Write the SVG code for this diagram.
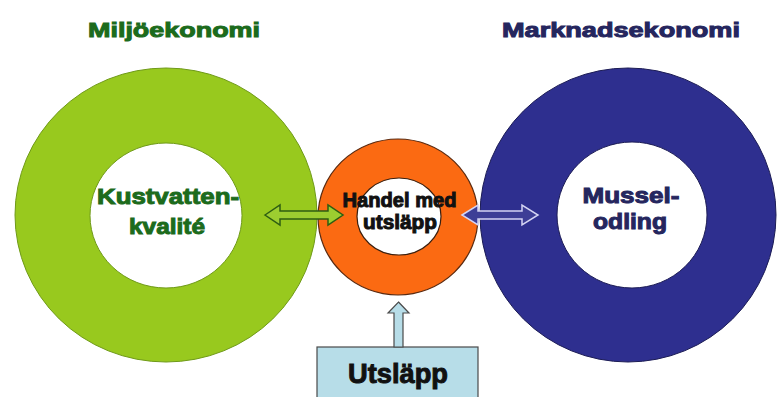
<svg xmlns="http://www.w3.org/2000/svg" width="777" height="397" viewBox="0 0 777 397">
<style>
.t{font-family:"Liberation Sans",Arial,sans-serif;font-weight:bold;text-anchor:middle}
.g{fill:#1c6b1c;stroke:#1c6b1c;stroke-width:1}
.b{fill:#25265e;stroke:#25265e;stroke-width:1}
.k{fill:#111;stroke:#111;stroke-width:1}
.inner{fill:#ffffff}
</style>
<rect width="777" height="397" fill="#ffffff"/>
<g id="title-miljo"><text class="t g" x="174" y="37" font-size="21" textLength="172" lengthAdjust="spacingAndGlyphs">Miljöekonomi</text></g>
<g id="title-marknad"><text class="t b" x="621" y="37" font-size="21" textLength="238" lengthAdjust="spacingAndGlyphs">Marknadsekonomi</text></g>
<g id="ring-green">
<ellipse cx="166" cy="215" rx="151" ry="147" fill="#98c91e" stroke="#6f9a18" stroke-width="1"/>
<ellipse class="inner" cx="166" cy="215.5" rx="76" ry="72.5" stroke="#6f9a18" stroke-width="1"/>
<text class="t g" x="168" y="204" font-size="22" textLength="142" lengthAdjust="spacingAndGlyphs">Kustvatten-</text>
<text class="t g" x="167" y="234" font-size="22" textLength="76" lengthAdjust="spacingAndGlyphs">kvalité</text>
</g>
<g id="ring-blue">
<ellipse cx="628" cy="215" rx="148" ry="147" fill="#2e2f8f" stroke="#1c1c55" stroke-width="1"/>
<ellipse class="inner" cx="632" cy="215" rx="75" ry="73" stroke="#1c1c55" stroke-width="1"/>
<text class="t b" x="631" y="203" font-size="22" textLength="97" lengthAdjust="spacingAndGlyphs">Mussel-</text>
<text class="t b" x="630" y="229" font-size="22" textLength="74" lengthAdjust="spacingAndGlyphs">odling</text>
</g>
<g id="ring-orange">
<ellipse cx="398" cy="217" rx="80" ry="78" fill="#fb6a12" stroke="#5a2a10" stroke-width="1.2"/>
<ellipse class="inner" cx="399" cy="216.5" rx="42" ry="38.5" stroke="#3a2010" stroke-width="1.2"/>
<text class="t k" x="399.5" y="207" font-size="20" textLength="114" lengthAdjust="spacingAndGlyphs">Handel med</text>
<text class="t k" x="400" y="229" font-size="20" textLength="74" lengthAdjust="spacingAndGlyphs">utsläpp</text>
</g>
<g id="box-utslapp">
<rect x="317" y="347" width="161" height="55" fill="#b7dde8" stroke="#4a4a4a" stroke-width="1.2"/>
<text class="t k" x="398" y="383" font-size="28" textLength="100" lengthAdjust="spacingAndGlyphs">Utsläpp</text>
</g>
<g id="connectors">
<path d="M265,215 L280,205 L280,211 L328,211 L328,205 L343,215 L328,225 L328,219 L280,219 L280,225 Z" fill="#9ccd30" stroke="#2e5e12" stroke-width="1.5" stroke-linejoin="miter"/>
<path d="M462,215 L478,205 L478,211 L522,211 L522,205 L538,215 L522,225 L522,219 L478,219 L478,225 Z" fill="#3d3e96" stroke="#d4d4f4" stroke-width="1.5"/>
<path d="M398.5,302 L409,313 L403,313 L403,347 L394,347 L394,313 L388,313 Z" fill="#b7dde8" stroke="#4a4a4a" stroke-width="1.2"/>
</g>
</svg>
